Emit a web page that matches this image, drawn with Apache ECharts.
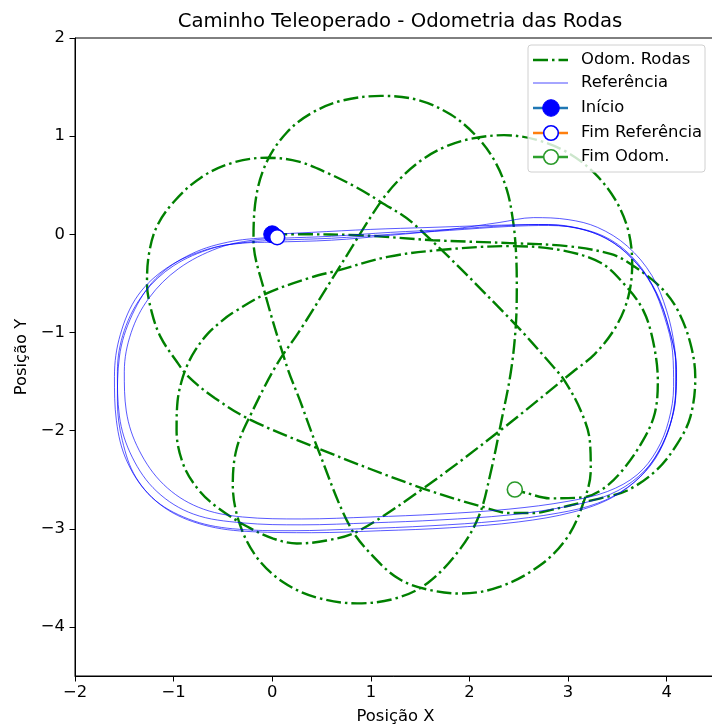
<!DOCTYPE html>
<html><head><meta charset="utf-8">
<script src="https://cdn.jsdelivr.net/npm/echarts@6/dist/echarts.min.js"></script>
<style>html,body{margin:0;padding:0;background:#fff}#c{width:712px;height:727px}</style>
</head><body><div id="c"></div>
<script>
const titleText = 'Caminho Teleoperado - Odometria das Rodas';
const xTicks = [-2, -1, 0, 1, 2, 3, 4];
const yTicks = [-4, -3, -2, -1, 0, 1, 2];
const legendNames = ['Odom. Rodas', 'Referência', 'Início', 'Fim Referência', 'Fim Odom.'];

// Wheel odometry path
const odomPath = [
 [0,0],[0.28,0],[0.89,-0.01],[1.63,-0.06],[2.41,-0.09],[2.99,-0.12],[3.43,-0.2],[3.63,-0.30],[3.94,-0.54],[4.11,-0.77],[4.24,-1.11],[4.29,-1.46],[4.24,-1.86],[4.11,-2.13],[3.90,-2.40],[3.60,-2.61],[3.33,-2.69],[3.15,-2.73],[2.82,-2.81],[2.65,-2.84],[2.41,-2.84],
 [2.18,-2.79],[1.53,-2.59],[0.46,-2.18],[-0.22,-1.89],[-0.58,-1.67],[-0.85,-1.45],
 [-0.98,-1.28],[-1.13,-1.05],[-1.22,-0.80],[-1.27,-0.50],[-1.25,-0.20],[-1.17,0.08],[-0.99,0.34],[-0.72,0.58],[-0.40,0.73],[-0.05,0.78],[0.27,0.74],[0.57,0.62],
 [0.85,0.48],[1.10,0.33],[1.43,0.11],[2.41,-0.86],[2.85,-1.35],
 [2.97,-1.50],[3.13,-1.80],[3.22,-2.10],[3.23,-2.40],[3.15,-2.75],[2.99,-3.09],[2.72,-3.37],[2.31,-3.59],[1.91,-3.66],[1.58,-3.62],
 [1.30,-3.52],[1.06,-3.32],[0.79,-2.98],[0.46,-2.18],[0.28,-1.69],[0.15,-1.35],[-0.09,-0.54],[-0.19,-0.06],
 [-0.16,0.40],[-0.05,0.75],[0.15,1.04],[0.39,1.23],[0.70,1.36],[1.10,1.41],[1.47,1.37],[1.81,1.22],[2.08,0.99],[2.26,0.74],[2.38,0.45],[2.44,0.15],[2.47,-0.15],
 [2.48,-0.50],[2.47,-0.93],[2.42,-1.40],[2.32,-1.92],[2.21,-2.45],
 [2.10,-2.86],[1.91,-3.20],[1.58,-3.55],[1.25,-3.71],[0.86,-3.76],[0.45,-3.70],[0.12,-3.55],[-0.15,-3.30],[-0.33,-2.95],[-0.40,-2.55],[-0.36,-2.18],[-0.21,-1.82],[0.05,-1.32],
 [0.28,-0.98],[0.66,-0.37],[1.10,0.33],[1.30,0.57],[1.52,0.76],[1.75,0.89],[2.00,0.97],[2.35,1.01],[2.69,0.96],[3.00,0.83],[3.27,0.62],[3.48,0.35],[3.61,0.04],[3.65,-0.30],[3.61,-0.64],[3.48,-0.95],[3.27,-1.22],[3.05,-1.40],
 [2.31,-2.0],[1.53,-2.59],[0.86,-3.03],
 [0.55,-3.12],[0.25,-3.15],[0.01,-3.10],[-0.25,-2.98],[-0.56,-2.78],[-0.75,-2.60],[-0.90,-2.35],[-0.97,-2.00],[-0.96,-1.70],[-0.92,-1.50],[-0.86,-1.33],[-0.78,-1.18],[-0.66,-1.02],[-0.52,-0.89],
 [-0.40,-0.80],[-0.05,-0.60],[0.39,-0.44],[0.66,-0.37],[1.17,-0.23],[1.70,-0.16],[2.41,-0.12],[2.92,-0.16],[3.33,-0.29],
 [3.58,-0.52],[3.76,-0.77],[3.86,-1.08],[3.91,-1.49],[3.88,-1.82],[3.76,-2.10],[3.53,-2.43],[3.33,-2.61],[3.15,-2.68],
 [2.82,-2.69],[2.59,-2.64],[2.46,-2.60]
];

// Reference path, four laps
const refLoop1 = [[0,0],[0.4,0.02],[1.0,0.05],[1.6,0.07],[2.2,0.09],[2.7,0.1],[3.1,0.06],[3.4,-0.05],[3.65,-0.25],[3.85,-0.52],[3.98,-0.85],[4.06,-1.2],[4.07,-1.55],[4.02,-1.9],[3.9,-2.2],[3.7,-2.45],[3.4,-2.62],[3.0,-2.72],[2.4,-2.8],[1.7,-2.85],[1.0,-2.88],[0.3,-2.9],[-0.3,-2.88],[-0.75,-2.78],[-1.1,-2.55],[-1.35,-2.2],[-1.48,-1.8],[-1.5,-1.4],[-1.43,-1.0],[-1.25,-0.65],[-0.95,-0.35],[-0.55,-0.14],[-0.2,-0.06]];
const refLoop2 = [[0.1,-0.04],[0.6,-0.02],[1.2,0.02],[1.8,0.05],[2.4,0.09],[2.8,0.1],[3.15,0.05],[3.45,-0.08],[3.7,-0.3],[3.9,-0.6],[4.02,-0.95],[4.09,-1.3],[4.09,-1.65],[4.02,-1.98],[3.88,-2.28],[3.65,-2.52],[3.35,-2.68],[2.95,-2.78],[2.4,-2.86],[1.7,-2.91],[1.0,-2.94],[0.3,-2.96],[-0.3,-2.94],[-0.8,-2.85],[-1.17,-2.62],[-1.42,-2.27],[-1.55,-1.85],[-1.57,-1.4],[-1.5,-0.98],[-1.3,-0.6],[-1.0,-0.32],[-0.6,-0.14],[-0.25,-0.08]];
const refLoop3 = [[0.05,-0.06],[0.6,-0.04],[1.2,0.0],[1.8,0.04],[2.4,0.08],[2.8,0.09],[3.2,0.04],[3.5,-0.1],[3.75,-0.35],[3.93,-0.68],[4.04,-1.02],[4.1,-1.38],[4.08,-1.72],[4.0,-2.05],[3.84,-2.35],[3.6,-2.58],[3.3,-2.74],[2.9,-2.84],[2.3,-2.92],[1.6,-2.97],[0.9,-3.0],[0.2,-3.02],[-0.4,-3.0],[-0.85,-2.9],[-1.22,-2.68],[-1.47,-2.32],[-1.58,-1.9],[-1.6,-1.45],[-1.54,-1.02],[-1.36,-0.62],[-1.05,-0.33],[-0.65,-0.15],[-0.3,-0.09]];
const refLoop4 = [[0.0,-0.08],[0.6,-0.06],[1.2,-0.01],[1.8,0.05],[2.3,0.12],[2.65,0.17],[3.0,0.15],[3.3,0.07],[3.6,-0.12],[3.85,-0.42],[4.0,-0.78],[4.08,-1.15],[4.1,-1.5],[4.06,-1.85],[3.95,-2.15],[3.75,-2.45],[3.45,-2.68],[3.05,-2.83],[2.5,-2.93],[1.8,-2.99],[1.1,-3.02],[0.4,-3.04],[-0.2,-3.03],[-0.7,-2.96],[-1.1,-2.78],[-1.38,-2.48],[-1.52,-2.1],[-1.57,-1.7],[-1.55,-1.25],[-1.42,-0.82],[-1.18,-0.45],[-0.82,-0.2],[-0.4,-0.07],[0.05,-0.03]];

const startPoint = [0, 0];
const refEnd = [0.05, -0.03];
const odomEnd = [2.46, -2.60];

const refPath = refLoop1.concat(refLoop2, refLoop3, refLoop4);

const FONT = 'DejaVu Sans';
const GREEN = '#008000';
const dashDot = [15, 4, 2.5, 4];
const minus = v => String(v).replace('-', '\u2212');

const chart = echarts.init(document.getElementById('c'), null, {renderer: 'canvas'});

const legendX = 528, legendY = 45;
const rows = [60, 83, 108, 133, 157];
const graphics = [
  {type: 'rect', shape: {x: legendX, y: legendY, width: 177, height: 127, r: 3}, style: {fill: 'rgba(255,255,255,0.8)', stroke: '#d0d0d0', lineWidth: 1}, z: 100},
  {type: 'line', shape: {x1: 533, y1: rows[0], x2: 568, y2: rows[0]}, style: {stroke: GREEN, lineWidth: 2.4, lineDash: dashDot}, z: 101},
  {type: 'line', shape: {x1: 533, y1: rows[1], x2: 568, y2: rows[1]}, style: {stroke: 'rgba(0,0,255,0.7)', lineWidth: 1}, z: 101},
  {type: 'line', shape: {x1: 533, y1: rows[2], x2: 568, y2: rows[2]}, style: {stroke: '#1f77b4', lineWidth: 2.4}, z: 101},
  {type: 'circle', shape: {cx: 551, cy: rows[2], r: 8.3}, style: {fill: '#0000ff', stroke: '#0000ff', lineWidth: 1}, z: 102},
  {type: 'line', shape: {x1: 533, y1: rows[3], x2: 568, y2: rows[3]}, style: {stroke: '#ff7f0e', lineWidth: 2.4}, z: 101},
  {type: 'circle', shape: {cx: 551, cy: rows[3], r: 7.3}, style: {fill: '#ffffff', stroke: '#0000ff', lineWidth: 1.6}, z: 102},
  {type: 'line', shape: {x1: 533, y1: rows[4], x2: 568, y2: rows[4]}, style: {stroke: '#2ca02c', lineWidth: 2.4}, z: 101},
  {type: 'circle', shape: {cx: 551, cy: rows[4], r: 7.3}, style: {fill: '#ffffff', stroke: '#2a9a2a', lineWidth: 1.6}, z: 102}
];
legendNames.forEach((n, i) => {
  graphics.push({type: 'text', x: 581, y: rows[i], style: {text: n, fill: '#000', font: '16.4px "DejaVu Sans"', textVerticalAlign: 'middle', verticalAlign: 'middle'}, z: 103});
});

chart.setOption({
  backgroundColor: '#ffffff',
  animation: false,
  title: {text: titleText, left: 395, top: 7, textAlign: 'center', textStyle: {fontFamily: FONT, fontSize: 19.7, fontWeight: 'normal', color: '#000'}},
  grid: {left: 75, top: 38, width: 641, height: 638, show: true, borderColor: '#000', borderWidth: 1, backgroundColor: 'transparent', containLabel: false, outerBoundsMode: 'none'},
  xAxis: {
    type: 'value', min: -2, max: 4.5, interval: 1,
    name: 'Posição X', nameLocation: 'middle', nameGap: 33,
    nameTextStyle: {fontFamily: FONT, fontSize: 16.4, color: '#000'},
    axisLine: {show: true, onZero: false, lineStyle: {color: '#000', width: 1}},
    axisTick: {show: true, inside: false, length: 5.5, lineStyle: {color: '#000'}, customValues: xTicks},
    axisLabel: {fontFamily: FONT, fontSize: 16.4, color: '#000', margin: 9, formatter: minus, customValues: xTicks},
    splitLine: {show: false}
  },
  yAxis: {
    type: 'value', min: -4.5, max: 2, interval: 0.5,
    name: 'Posição Y', nameLocation: 'middle', nameGap: 45, nameRotate: 90,
    nameTextStyle: {fontFamily: FONT, fontSize: 16.4, color: '#000'},
    axisLine: {show: true, onZero: false, lineStyle: {color: '#000', width: 1}},
    axisTick: {show: true, inside: false, length: 5.5, lineStyle: {color: '#000'}, customValues: yTicks},
    axisLabel: {fontFamily: FONT, fontSize: 16.4, color: '#000', margin: 10, formatter: minus, customValues: yTicks},
    splitLine: {show: false}
  },
  series: [
    {name: legendNames[0], type: 'line', data: odomPath, showSymbol: false, smooth: 0.35, z: 2,
     lineStyle: {color: GREEN, width: 2.4, type: dashDot, cap: 'butt'}},
    {name: legendNames[1], type: 'line', data: refPath, showSymbol: false, smooth: 0.35, z: 3,
     lineStyle: {color: '#0000ff', width: 1, opacity: 0.65}},
    {name: legendNames[2], type: 'scatter', data: [startPoint], symbol: 'circle', symbolSize: 17, z: 4,
     itemStyle: {color: '#0000ff', borderColor: '#0000ff', borderWidth: 1, opacity: 1}},
    {name: legendNames[3], type: 'scatter', data: [refEnd], symbol: 'circle', symbolSize: 15, z: 5,
     itemStyle: {color: '#ffffff', borderColor: '#0000ff', borderWidth: 1.6, opacity: 1}},
    {name: legendNames[4], type: 'scatter', data: [odomEnd], symbol: 'circle', symbolSize: 15, z: 5,
     itemStyle: {color: '#ffffff', borderColor: '#2a9a2a', borderWidth: 1.6, opacity: 1}}
  ],
  graphic: graphics
});
</script>
</body></html>
